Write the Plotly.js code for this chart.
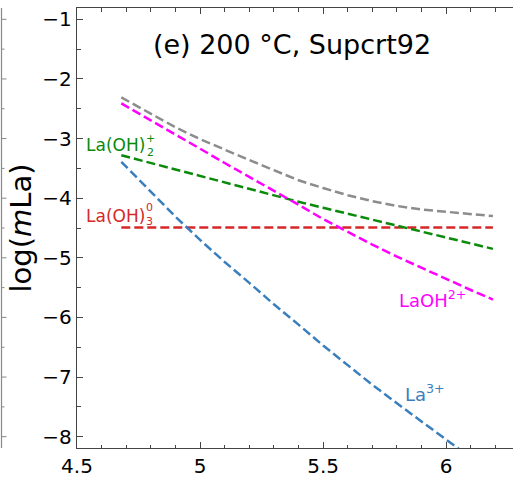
<!DOCTYPE html>
<html>
<head>
<meta charset="utf-8">
<script src="https://cdn.plot.ly/plotly-3.0.1.min.js"></script>
<style>
html,body{margin:0;padding:0;overflow:hidden;background:#fff;}
#chart{width:530px;height:480px;}
</style>
</head>
<body>
<div id="chart"></div>
<script>
// x values
const xVals = [4.68, 4.8, 4.9, 5.0, 5.1, 5.2, 5.3, 5.4, 5.5, 5.6, 5.7, 5.8, 5.9, 6.0, 6.1, 6.19];
const totalLa = [-2.31, -2.59, -2.81, -3.01, -3.19, -3.36, -3.53, -3.70, -3.83, -3.95, -4.05, -4.13, -4.19, -4.23, -4.27, -4.30];
const laOH2plus = [-2.41, -2.70, -2.94, -3.17, -3.41, -3.64, -3.88, -4.11, -4.35, -4.57, -4.78, -4.98, -5.17, -5.36, -5.54, -5.70];
const laOH2 = [-3.28, -3.41, -3.52, -3.63, -3.74, -3.85, -3.96, -4.06, -4.16, -4.26, -4.37, -4.47, -4.57, -4.67, -4.77, -4.85];
const laOH3 = [-4.49, -4.49, -4.49, -4.49, -4.49, -4.49, -4.49, -4.49, -4.49, -4.49, -4.49, -4.49, -4.49, -4.49, -4.49, -4.49];
const la3x = [4.68, 4.8, 4.9, 5.0, 5.1, 5.2, 5.3, 5.4, 5.5, 5.6, 5.7, 5.8, 5.9, 6.0, 6.1];
const la3 = [-3.39, -3.90, -4.31, -4.70, -5.07, -5.42, -5.78, -6.12, -6.47, -6.80, -7.13, -7.44, -7.75, -8.05, -8.35];
const yTickVals = [-8, -7, -6, -5, -4, -3, -2, -1];
const neighborTicks = [-8, -7.5, -7, -6.5, -6, -5.5, -5, -4.5, -4, -3.5, -3, -2.5, -2, -1.5, -1];

const dash = '9px,4px';
function tr(x, y, color) {
  return {x: x, y: y, type: 'scatter', mode: 'lines',
    line: {color: color, width: 2.5, dash: dash}, showlegend: false, hoverinfo: 'skip'};
}
const data = [
  tr(xVals, laOH3, '#d62728'),
  tr(la3x, la3, '#3a7fbd'),
  tr(xVals, laOH2, '#0a8a0a'),
  tr(xVals, laOH2plus, '#ff00ff'),
  tr(xVals, totalLa, '#8c8c8c')
];

const font = 'DejaVu Sans, sans-serif';
function px2x(p) { return 4.5 + (p - 77) / 246.1; }
function px2y(p) { return -1 - (p - 19.3) / 59.6; }
function ann(text, px, py, color, size, anchor) {
  return {text: text, x: px2x(px), y: px2y(py), xref: 'x', yref: 'y',
    xanchor: anchor || 'left', yanchor: 'middle', showarrow: false,
    font: {family: font, size: size, color: color}, borderpad: 0};
}
const annotations = [
  ann('La(OH)', 85, 145, '#0a8a0a', 17),
  ann('+<br>2', 145, 145, '#0a8a0a', 11),
  ann('La(OH)', 85, 216, '#d62728', 17),
  ann('0<br>3', 145, 214, '#d62728', 11),
  ann('LaOH<sup>2+</sup>', 398, 299, '#ff00ff', 18),
  ann('La<sup>3+</sup>', 404, 393, '#3a7fbd', 18)
];

const shapes = [{type: 'line', xref: 'paper', yref: 'paper',
  x0: (1.5 - 77) / 443, x1: (1.5 - 77) / 443, y0: 0, y1: 1,
  line: {color: '#888', width: 1.2}}];
neighborTicks.forEach(function (v) {
  const major = Number.isInteger(v);
  shapes.push({type: 'line', xref: 'paper', yref: 'y',
    x0: (1.5 - 77) / 443, x1: (1.5 + (major ? 5 : 3) - 77) / 443, y0: v, y1: v,
    line: {color: '#888', width: 1}});
});

const axisCommon = {
  showgrid: false, zeroline: false, showline: true, linecolor: '#444', linewidth: 1.2,
  mirror: 'ticks', ticks: 'inside', ticklen: 6, tickwidth: 1, tickcolor: '#444',
  tickfont: {family: font, size: 20, color: '#000'}
};
const layout = {
  width: 530, height: 480,
  margin: {l: 77, r: 10, t: 8, b: 32},
  paper_bgcolor: '#fff', plot_bgcolor: '#fff',
  title: {text: '(e) 200 °C, Supcrt92', x: 292 / 530, y: 1 - 45 / 480,
    xanchor: 'center', yanchor: 'middle', font: {family: font, size: 27, color: '#000'}},
  xaxis: Object.assign({}, axisCommon, {range: [4.5, 6.3], tickvals: [4.5, 5, 5.5, 6],
    ticktext: ['4.5', '5', '5.5', '6'],
    minor: {dtick: 0.1, tick0: 4.5, ticks: 'inside', ticklen: 3.5, tickcolor: '#444'}}),
  yaxis: Object.assign({}, axisCommon, {range: [-8.19, -0.81], tickvals: yTickVals,
    minor: {dtick: 0.5, tick0: -8, ticks: 'inside', ticklen: 3.5, tickcolor: '#444'},
    title: {text: 'log(<i>m</i>La)', font: {family: font, size: 29, color: '#000'}, standoff: 2}}),
  annotations: annotations,
  shapes: shapes
};
Plotly.newPlot('chart', data, layout, {displayModeBar: false, staticPlot: true});
</script>
</body>
</html>
